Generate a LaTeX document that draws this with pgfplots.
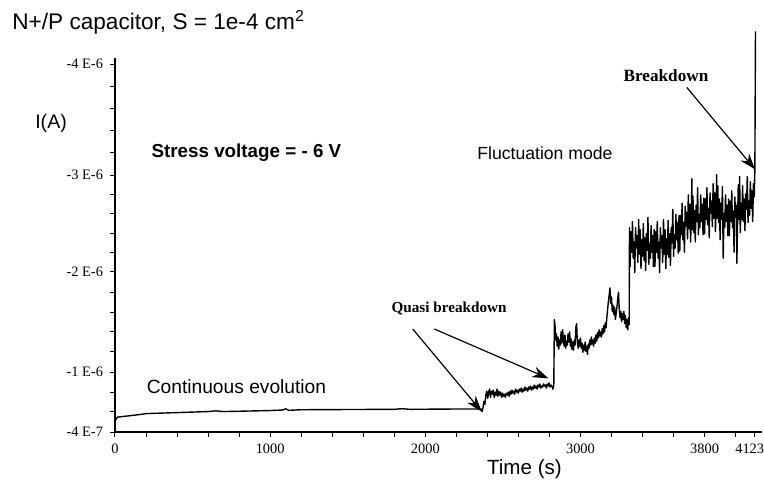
\documentclass[border=0pt]{standalone}
\usepackage{fontspec}
\setmainfont{Liberation Sans}
\newfontfamily\tms{Liberation Serif}
\usepackage{pgfplots}
\pgfplotsset{compat=1.18}
\usetikzlibrary{arrows.meta}

\begin{document}
\begin{tikzpicture}
\useasboundingbox (-57.5bp,-25.5bp) rectangle (324.5bp,216bp);
\begin{axis}[
    at={(0,0)}, anchor=south west,
    scale only axis, width=323.5bp, height=187bp,
    xmin=0, xmax=4170, ymin=-4.06, ymax=-0.4,
    y dir=reverse,
    axis x line*=bottom, axis y line*=left,
    axis line style={line width=0.6pt},
    clip=false,
    xtick={0,1000,2000,3000,3800,4123},
    xticklabels={0,1000,2000,3000,3800,\hspace*{-5bp}4123},
    minor xtick={200,400,600,800,1200,1400,1600,1800,2200,2400,2600,2800,3200,3400,3600,4000},
    ytick={-0.4,-0.987,-1.966,-2.915,-4.0},
    yticklabels={-4 E-7,-1 E-6,-2 E-6,-3 E-6,-4 E-6},
    minor ytick={-0.596,-0.791,-1.183,-1.379,-1.574,-1.770,-2.156,-2.346,-2.536,-2.725,-3.132,-3.349,-3.566,-3.783},
    tick align=outside,
    major tick length=2.5bp, minor tick length=2.5bp,
    tick style={line width=0.5pt, black},
    ticklabel style={font=\tms\fontsize{7.2bp}{8bp}\selectfont},
]
% I in units of 1E-6 A (negative current)
\addplot[black, line width=0.7pt, line join=round] coordinates {
  (0,-0.50) (5,-0.52) (15,-0.545) (40,-0.55) (100,-0.56) (180,-0.575) (200,-0.58)
  (400,-0.59) (600,-0.60) (650,-0.607) (700,-0.60) (1000,-0.61) (1080,-0.615)
  (1100,-0.627) (1120,-0.612) (1200,-0.618) (1500,-0.62) (1800,-0.622) (1850,-0.628)
  (1900,-0.622) (2200,-0.625) (2360,-0.625)
  (2366,-0.60) (2372,-0.64) (2378,-0.70) (2384,-0.67) (2390,-0.76) (2396,-0.80)
  (2402,-0.73) (2408,-0.79) (2414,-0.82) (2420,-0.74) (2426,-0.80) (2432,-0.77)
  (2438,-0.81) (2444,-0.74) (2450,-0.79) (2456,-0.76) (2462,-0.82) (2468,-0.75)
  (2474,-0.80) (2480,-0.76) (2486,-0.79) (2492,-0.74) (2498,-0.78) (2504,-0.75)
  (2510,-0.77) (2516,-0.74) (2522,-0.78) (2528,-0.76) (2534,-0.79) (2540,-0.75)
  (2546,-0.80) (2552,-0.77) (2558,-0.81) (2564,-0.78) (2570,-0.80) (2576,-0.77)
  (2582,-0.82) (2588,-0.79) (2594,-0.81) (2600,-0.78) (2606,-0.82) (2612,-0.80)
  (2618,-0.83) (2624,-0.79) (2630,-0.82) (2636,-0.80) (2642,-0.84) (2648,-0.81)
  (2654,-0.83) (2660,-0.80) (2666,-0.84) (2672,-0.82) (2678,-0.85) (2684,-0.81)
  (2690,-0.84) (2696,-0.82) (2702,-0.86) (2708,-0.83) (2714,-0.85) (2720,-0.82)
  (2726,-0.86) (2732,-0.84) (2738,-0.87) (2744,-0.83) (2750,-0.85) (2756,-0.84)
  (2762,-0.87) (2768,-0.85) (2774,-0.86) (2780,-0.83) (2786,-0.87) (2792,-0.85)
  (2798,-0.88) (2804,-0.84) (2810,-0.86) (2816,-0.85) (2822,-0.82) (2828,-0.85)
  (2832,-1.50) (2836,-1.44) (2840,-1.30) (2845,-1.36) (2850,-1.24) (2855,-1.33)
  (2860,-1.21) (2865,-1.30) (2870,-1.25) (2875,-1.38) (2880,-1.27) (2885,-1.40)
  (2890,-1.30) (2895,-1.24) (2900,-1.35) (2905,-1.22) (2910,-1.29) (2915,-1.25)
  (2920,-1.36) (2925,-1.28) (2930,-1.38) (2935,-1.24) (2940,-1.31) (2945,-1.21)
  (2950,-1.28) (2955,-1.20) (2960,-1.30) (2965,-1.25) (2970,-1.42) (2975,-1.46)
  (2980,-1.28) (2985,-1.22) (2990,-1.30) (2995,-1.24) (3000,-1.32) (3005,-1.22)
  (3010,-1.27) (3015,-1.18) (3020,-1.25) (3025,-1.20) (3030,-1.28) (3035,-1.19)
  (3040,-1.24) (3045,-1.16) (3050,-1.26) (3055,-1.22) (3060,-1.30) (3065,-1.25)
  (3070,-1.33) (3075,-1.26) (3080,-1.30) (3085,-1.24) (3090,-1.32) (3095,-1.27)
  (3100,-1.35) (3105,-1.29) (3110,-1.37) (3115,-1.32) (3120,-1.40) (3125,-1.34)
  (3130,-1.38) (3135,-1.33) (3140,-1.41) (3145,-1.36) (3150,-1.44) (3155,-1.38)
  (3160,-1.47) (3165,-1.42) (3170,-1.52) (3175,-1.60) (3180,-1.68) (3185,-1.74)
  (3190,-1.81) (3195,-1.66) (3200,-1.72) (3205,-1.58) (3210,-1.64) (3215,-1.55)
  (3220,-1.62) (3225,-1.50) (3230,-1.56) (3235,-1.62) (3240,-1.70) (3245,-1.77)
  (3250,-1.60) (3255,-1.52) (3260,-1.58) (3265,-1.48) (3270,-1.56) (3275,-1.50)
  (3280,-1.58) (3285,-1.46) (3290,-1.54) (3295,-1.42) (3300,-1.50) (3305,-1.40)
  (3310,-1.52) (3314,-1.45)
  (3316,-2.40) (3320,-2.02) (3325,-2.36) (3330,-2.16) (3335,-2.46) (3340,-2.10)
  (3345,-2.26) (3350,-1.96) (3355,-2.40) (3360,-2.20) (3365,-2.32) (3370,-2.06)
  (3375,-2.48) (3380,-2.14) (3385,-2.38) (3390,-2.00) (3395,-2.28) (3400,-2.12)
  (3405,-2.44) (3410,-2.08) (3415,-2.30) (3420,-1.98) (3425,-2.34) (3430,-2.18)
  (3435,-2.50) (3440,-2.04) (3445,-2.24) (3450,-2.10) (3455,-2.42) (3460,-2.16)
  (3465,-2.32) (3470,-2.02) (3475,-2.38) (3480,-2.02) (3485,-2.36) (3490,-2.16)
  (3495,-2.46) (3500,-2.10) (3505,-2.26) (3510,-1.96) (3515,-2.40) (3520,-2.20)
  (3525,-2.32) (3530,-2.06) (3535,-2.48) (3540,-2.14) (3545,-2.38) (3550,-2.00)
  (3555,-2.29) (3560,-2.14) (3565,-2.47) (3570,-2.11) (3575,-2.34) (3580,-2.03)
  (3585,-2.40) (3590,-2.25) (3595,-2.58) (3600,-2.12) (3605,-2.33) (3610,-2.20)
  (3615,-2.53) (3620,-2.28) (3625,-2.45) (3630,-2.15) (3635,-2.52) (3640,-2.17)
  (3645,-2.52) (3650,-2.33) (3655,-2.64) (3660,-2.28) (3665,-2.45) (3670,-2.16)
  (3675,-2.61) (3680,-2.42) (3685,-2.55) (3690,-2.29) (3695,-2.72) (3700,-2.39)
  (3705,-2.63) (3710,-2.26) (3715,-2.54) (3718,-2.88) (3720,-2.38) (3725,-2.71)
  (3730,-2.35) (3735,-2.57) (3740,-2.26) (3745,-2.62) (3750,-2.46) (3755,-2.79)
  (3760,-2.33) (3765,-2.53) (3770,-2.40) (3775,-2.72) (3780,-2.46) (3785,-2.63)
  (3790,-2.33) (3795,-2.69) (3800,-2.34) (3805,-2.68) (3810,-2.48) (3815,-2.79)
  (3820,-2.43) (3825,-2.59) (3830,-2.30) (3835,-2.74) (3840,-2.54) (3845,-2.66)
  (3850,-2.41) (3855,-2.83) (3860,-2.49) (3865,-2.74) (3870,-2.36) (3875,-2.64)
  (3878,-2.92) (3880,-2.49) (3885,-2.81) (3890,-2.45) (3895,-2.68) (3900,-2.28)
  (3905,-2.64) (3910,-2.48) (3915,-2.80) (3920,-2.10) (3925,-2.54) (3930,-2.40)
  (3935,-2.72) (3940,-2.46) (3945,-2.62) (3950,-2.32) (3955,-2.68) (3960,-2.32)
  (3965,-2.66) (3970,-2.46) (3975,-2.76) (3980,-2.40) (3985,-2.56) (3990,-2.16)
  (3995,-2.70) (4000,-2.50) (4005,-2.62) (4008,-2.05) (4012,-2.40) (4017,-2.82)
  (4021,-2.48) (4026,-2.90) (4030,-2.35) (4035,-2.64) (4040,-2.48) (4045,-2.81)
  (4050,-2.46) (4055,-2.68) (4060,-2.37) (4065,-2.73) (4070,-2.58) (4075,-2.90)
  (4080,-2.45) (4085,-2.66) (4090,-2.52) (4095,-2.85) (4100,-2.59) (4105,-2.76)
  (4110,-2.46) (4115,-2.83) (4120,-2.70) (4124,-2.96) (4128,-4.32)
};

% annotations
\node[anchor=west, inner sep=0pt, font=\fontsize{11.3bp}{13bp}\selectfont] at (axis cs:-664,-4.41) {N+/P capacitor, S = 1e-4 cm\textsuperscript{2}};
\node[font=\fontsize{9.8bp}{11bp}\selectfont] at (axis cs:-412,-3.42) {I(A)};
\node[font=\fontsize{10.3bp}{12bp}\selectfont] at (axis cs:2639,-0.038) {Time (s)};
\node[font=\bfseries\fontsize{9.4bp}{11bp}\selectfont] at (axis cs:847,-3.13) {Stress voltage = - 6 V};
\node[font=\fontsize{8.8bp}{10bp}\selectfont] at (axis cs:2771,-3.13) {Fluctuation mode};
\node[font=\fontsize{9.6bp}{11bp}\selectfont] at (axis cs:783,-0.84) {Continuous evolution};
\node[font=\tms\bfseries\fontsize{7.6bp}{9bp}\selectfont] at (axis cs:2153,-1.61) {Quasi breakdown};
\node[font=\tms\bfseries\fontsize{8.6bp}{10bp}\selectfont] at (axis cs:3551,-3.883) {Breakdown};
\draw[line width=0.6pt, -{Stealth[length=8bp,width=5.5bp]}] (axis cs:1919,-1.408) -- (axis cs:2363,-0.60);
\draw[line width=0.6pt, -{Stealth[length=8bp,width=5.5bp]}] (axis cs:2058,-1.408) -- (axis cs:2793,-0.925);
\draw[line width=0.6pt, -{Stealth[length=8bp,width=5.5bp]}] (axis cs:3685,-3.773) -- (axis cs:4125,-2.97);
\end{axis}
\end{tikzpicture}
\end{document}
